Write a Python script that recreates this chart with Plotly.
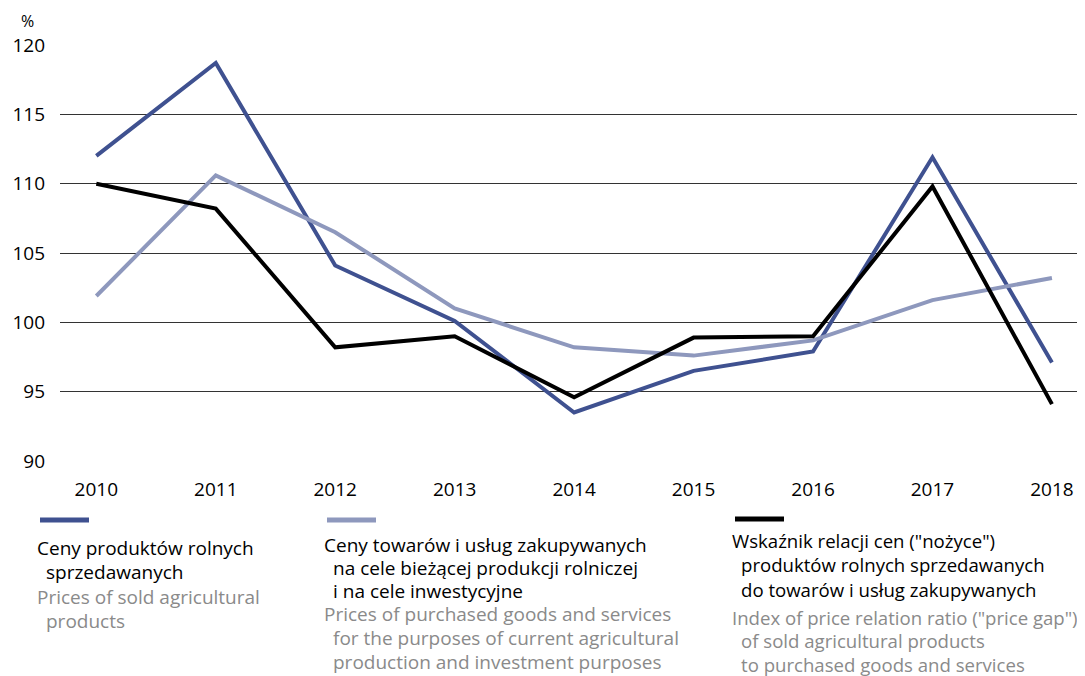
import plotly.graph_objects as go

# Data
years = [2010, 2011, 2012, 2013, 2014, 2015, 2016, 2017, 2018]
sold_prices = [112.0, 118.7, 104.1, 100.1, 93.5, 96.5, 97.9, 111.9, 97.1]
purchased_prices = [101.9, 110.6, 106.5, 101.0, 98.2, 97.6, 98.7, 101.6, 103.2]
price_gap = [110.0, 108.2, 98.2, 99.0, 94.6, 98.9, 99.0, 109.8, 94.1]
y_ticks = [90, 95, 100, 105, 110, 115, 120]

# Legend texts: (polish lines, english lines)
legend_sold = (["Ceny produktów rolnych", "sprzedawanych"],
               ["Prices of sold agricultural", "products"])
legend_purchased = (["Ceny towarów i usług zakupywanych",
                     "na cele bieżącej produkcji rolniczej",
                     "i na cele inwestycyjne"],
                    ["Prices of purchased goods and services",
                     "for the purposes of current agricultural",
                     "production and investment purposes"])
legend_gap = (["Wskaźnik relacji cen (\"nożyce\")",
               "produktów rolnych sprzedawanych",
               "do towarów i usług zakupywanych"],
              ["Index of price relation ratio (\"price gap\")",
               "of sold agricultural products",
               "to purchased goods and services"])

BLUE = "#3f5190"
LIGHT = "#8e98bd"
BLACK = "#000000"
GREY_TXT = "#8a8a8a"
FONT = "Open Sans"

# page body has an 8px margin, so the figure is drawn 8px in from the window edge
OFF = 8
W, H = 1085 - OFF, 676 - OFF
L, R, T, B = 60 - OFF, 10 - OFF, 45 - OFF, 215
PW, PH = W - L - R, H - T - B


def px2paper(x, y):
    # x, y in window pixels
    return (x - OFF - L) / PW, (H - B - (y - OFF)) / PH


fig = go.Figure()
idx = list(range(len(years)))
for vals, col in [(sold_prices, BLUE), (purchased_prices, LIGHT), (price_gap, BLACK)]:
    fig.add_trace(go.Scatter(x=idx, y=vals, mode="lines",
                             line=dict(color=col, width=4), showlegend=False,
                             hoverinfo="skip"))

annotations = []
shapes = []

# '%' unit label
ux, uy = px2paper(27, 21)
annotations.append(dict(text="%", x=ux, y=uy, xref="paper", yref="paper",
                        showarrow=False, xanchor="center", yanchor="middle",
                        font=dict(family=FONT, size=16, color="black")))

# custom legend blocks: (x, line y, text line centres, colour, font size, texts)
blocks = [
    (35, 520, [548, 572, 597, 621], BLUE, 19, legend_sold),
    (322, 520, [545, 568, 591, 614, 638, 662], LIGHT, 19, legend_purchased),
    (730, 519, [540, 564, 589, 617, 640, 664], BLACK, 18.6, legend_gap),
]
for bx, ly, ys, col, fs, (pl, en) in blocks:
    x0, y0 = px2paper(bx + 5, ly)
    x1, _ = px2paper(bx + 54, ly)
    shapes.append(dict(type="line", xref="paper", yref="paper", x0=x0, x1=x1,
                       y0=y0, y1=y0, line=dict(color=col, width=5)))
    lines = [(t, i > 0, "black") for i, t in enumerate(pl)] + \
            [(t, i > 0, GREY_TXT) for i, t in enumerate(en)]
    for (t, indent, c), yy in zip(lines, ys):
        ax, ay = px2paper(bx + (9 if indent else 0), yy)
        annotations.append(dict(text=t, x=ax, y=ay, xref="paper", yref="paper",
                                showarrow=False, xanchor="left", yanchor="middle",
                                font=dict(family=FONT, size=fs, color=c)))

fig.update_layout(
    width=W, height=H,
    margin=dict(l=L, r=R, t=T, b=B),
    plot_bgcolor="white", paper_bgcolor="white",
    font=dict(family=FONT, size=19, color="black"),
    annotations=annotations, shapes=shapes,
    xaxis=dict(range=[-0.304, 8.26], tickvals=idx, ticktext=[str(y) for y in years],
               showgrid=False, zeroline=False, showline=False,
               ticks="", ticklabelstandoff=15, fixedrange=True),
    yaxis=dict(range=[90, 120], tickvals=y_ticks, showgrid=True,
               gridcolor="#333333", gridwidth=1, zeroline=False,
               showline=False, ticks="", ticklabelstandoff=14, fixedrange=True),
)

fig.write_html("out.html")
